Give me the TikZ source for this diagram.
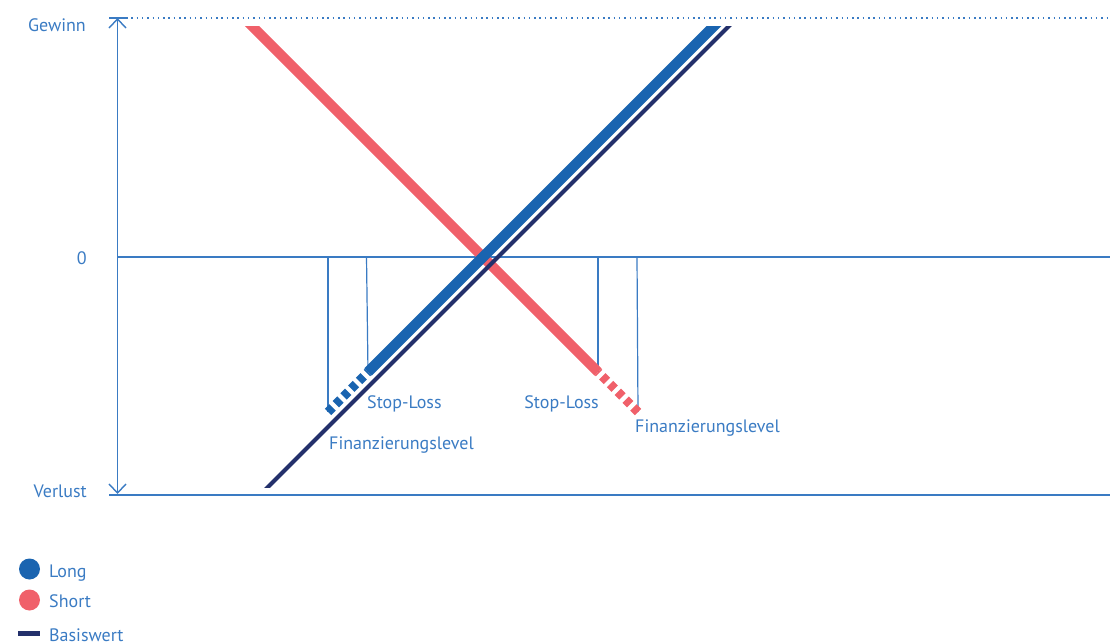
\documentclass[tikz,border=0pt]{standalone}
\usepackage{fontspec}
\setmainfont{PT Sans}
\usepackage{tikz}
\usetikzlibrary{arrows.meta}
\definecolor{achsblau}{HTML}{3A7BC3}
\definecolor{longblau}{HTML}{1A64B0}
\definecolor{shortrot}{HTML}{F0606A}
\definecolor{basisblau}{HTML}{23306B}

\begin{document}
\begin{tikzpicture}[x=1pt,y=-1pt,
  achse/.style={draw=achsblau, line width=1.4pt},
  hilfslinie/.style={draw=achsblau, line width=1.2pt},
  beschriftung/.style={text=achsblau, font=\fontsize{18}{21}\selectfont, inner sep=0pt},
  pfeil/.style={{Straight Barb[length=9pt,width=17pt]}-{Straight Barb[length=9pt,width=17pt]}},
  longlinie/.style={draw=longblau, line width=10.5pt},
  shortlinie/.style={draw=shortrot, line width=10pt},
  basislinie/.style={draw=basisblau, line width=4pt},
  gestrichelt/.style={line width=9pt, dash pattern=on 6.5pt off 4.5pt}]
\useasboundingbox (0,0) rectangle (1110,644);
\coordinate (gewinnL) at (109,18);
\coordinate (gewinnM) at (126,18);
\coordinate (gewinnR) at (1110,18);
\coordinate (achseO) at (117.5,18);
\coordinate (achseU) at (117.5,494);
\coordinate (nullL) at (117.5,257);
\coordinate (nullR) at (1110,257);
\coordinate (verlustL) at (109,495);
\coordinate (verlustR) at (1110,495);
\coordinate (longO) at (723,17);
\coordinate (longSL) at (368,372);
\coordinate (longFL) at (328,412);
\coordinate (shortO) at (243,17);
\coordinate (shortSL) at (598,372);
\coordinate (shortFL) at (638,412);
\coordinate (basisO) at (738,17);
\coordinate (basisU) at (258,497);
\coordinate (fl1) at (328,257);
\coordinate (sl1) at (366.5,257);
\coordinate (sl2) at (598,257);
\coordinate (fl2) at (637,257);
\node[beschriftung, anchor=base east] (gewinn) at (86,32) {Gewinn};
\node[beschriftung, anchor=base east] (null) at (87,264) {0};
\node[beschriftung, anchor=base east] (verlust) at (87,497) {Verlust};
\node[beschriftung, anchor=base west] (stoplong) at (367,408) {Stop-Loss};
\node[beschriftung, anchor=base west] (finlong) at (329,449) {Finanzierungslevel};
\node[beschriftung, anchor=base east] (stopshort) at (599,408) {Stop-Loss};
\node[beschriftung, anchor=base west] (finshort) at (635,432) {Finanzierungslevel};
\draw[achse, dash pattern=on 1.5pt off 3.8pt] (gewinnM) -- (gewinnR);
\draw[achse] (gewinnL) -- (gewinnM);
\draw[achse] (nullL) -- (nullR);
\draw[achse] (verlustL) -- (verlustR);
\draw[achse, pfeil] (achseO) -- (achseU);
\draw[hilfslinie] (fl1) -- (longFL);
\draw[hilfslinie] (sl1) -- (longSL);
\draw[hilfslinie] (sl2) -- (shortSL);
\draw[hilfslinie] (fl2) -- (shortFL);
\begin{scope}
\clip (0,26.5) rectangle (1110,487);
\draw[shortlinie] (shortO) -- (shortSL);
\draw[basislinie] (basisU) -- (basisO);
\draw[longlinie] (longSL) -- (longO);
\end{scope}
\draw[shortrot, gestrichelt] (shortFL) -- (shortSL);
\draw[longblau, gestrichelt] (longFL) -- (longSL);
\node[circle, fill=longblau, minimum size=21pt, inner sep=0pt] (punktlong) at (29.5,569) {};
\node[circle, fill=shortrot, minimum size=21pt, inner sep=0pt] (punktshort) at (29.5,600) {};
\node[fill=basisblau, minimum width=22pt, minimum height=5pt, inner sep=0pt] (balkenbasis) at (29,633) {};
\node[beschriftung, anchor=base west] (long) at (49,577) {Long};
\node[beschriftung, anchor=base west] (short) at (49,607) {Short};
\node[beschriftung, anchor=base west] (basis) at (49,641) {Basiswert};
\end{tikzpicture}
\end{document}
